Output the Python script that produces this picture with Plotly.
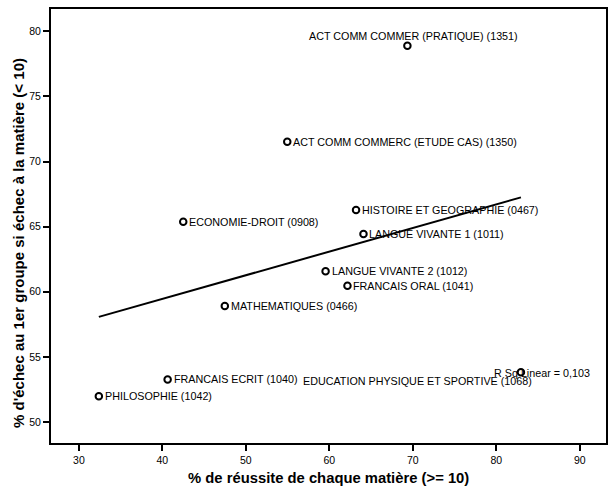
import numpy as np
import plotly.graph_objects as go

labels = [
    "ACT COMM COMMER (PRATIQUE) (1351)",
    "ACT COMM COMMERC (ETUDE CAS) (1350)",
    "ECONOMIE-DROIT (0908)",
    "HISTOIRE ET GEOGRAPHIE (0467)",
    "LANGUE VIVANTE 1 (1011)",
    "LANGUE VIVANTE 2 (1012)",
    "FRANCAIS ORAL (1041)",
    "MATHEMATIQUES (0466)",
    "FRANCAIS ECRIT (1040)",
    "PHILOSOPHIE (1042)",
    "EDUCATION PHYSIQUE ET SPORTIVE (1068)",
]
reussite = [69.35, 54.96, 42.5, 63.2, 64.09, 59.55, 62.17, 47.48, 40.63, 32.39, 82.95]
echec = [78.9, 71.52, 65.38, 66.28, 64.44, 61.57, 60.46, 58.9, 53.26, 51.98, 53.82]
r_sq_text = "R Sq Linear = 0,103"
x_ticks = [30, 40, 50, 60, 70, 80, 90]
y_ticks = [50, 55, 60, 65, 70, 75, 80]

FONT = "Liberation Sans, Arial, sans-serif"

x = np.array(reussite)
y = np.array(echec)
slope, intercept = np.polyfit(x, y, 1)
fx = np.linspace(x.min(), x.max(), 2)
fy = slope * fx + intercept

fig = go.Figure()
fig.add_trace(go.Scatter(x=fx, y=fy, mode="lines",
                         line=dict(color="black", width=2), hoverinfo="skip",
                         showlegend=False))
fig.add_trace(go.Scatter(x=reussite, y=echec, mode="markers",
                         marker=dict(symbol="circle-open", size=6.5, color="black",
                                     line=dict(width=2, color="black")),
                         text=labels, showlegend=False))

annots = []
for lab, xv, yv in zip(labels, reussite, echec):
    if lab.startswith("ACT COMM COMMER (PRATIQUE)"):
        annots.append(dict(x=xv, y=yv, text=lab, xanchor="center", yanchor="middle",
                           xshift=6, yshift=10, showarrow=False))
    elif lab.startswith("EDUCATION"):
        annots.append(dict(x=xv, y=yv, text=lab, xanchor="right", yanchor="middle",
                           xshift=13, yshift=-9, showarrow=False))
    else:
        annots.append(dict(x=xv, y=yv, text=lab, xanchor="left", yanchor="middle",
                           xshift=4, showarrow=False))
annots.append(dict(x=79.53, y=53.72, text=r_sq_text, xanchor="left", yanchor="middle",
                   showarrow=False))
for a in annots:
    a["font"] = dict(family=FONT, size=10.75, color="black")
    a["xref"] = "x"
    a["yref"] = "y"

annots.append(dict(xref="paper", yref="paper", x=-0.0575, y=0.461,
                   text="<b>% d'échec au 1er groupe si échec à la matière (< 10)</b>",
                   textangle=-90, xanchor="center", yanchor="middle", showarrow=False,
                   font=dict(family=FONT, size=15, color="black")))
annots.append(dict(xref="paper", yref="paper", x=0.5, y=-0.08,
                   text="<b>% de réussite de chaque matière (>= 10)</b>",
                   xanchor="center", yanchor="middle", showarrow=False,
                   font=dict(family=FONT, size=14.8, color="black")))

axis_common = dict(showline=True, mirror=True, linecolor="black", linewidth=2,
                   ticks="outside", ticklen=6, tickwidth=2, tickcolor="black",
                   showgrid=False, zeroline=False,
                   tickfont=dict(family=FONT, size=10.5, color="black"))

fig.update_layout(
    width=609, height=495,
    margin=dict(l=51, r=1, t=9, b=52),
    paper_bgcolor="white", plot_bgcolor="white",
    xaxis=dict(range=[26.66, 93.14], tickvals=x_ticks, **axis_common),
    yaxis=dict(range=[48.38, 81.72], tickvals=y_ticks, **axis_common),
    annotations=annots,
    font=dict(family=FONT, color="black"),
)

fig.write_html("out.html", config={"displayModeBar": False},
               post_script="document.body.style.margin='0';document.body.style.overflow='hidden';")
